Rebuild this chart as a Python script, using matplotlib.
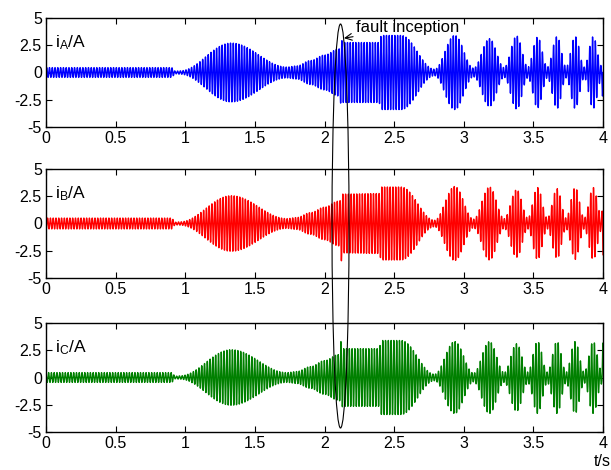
import numpy as np
import matplotlib.pyplot as plt
from matplotlib.patches import Ellipse

plt.rcParams['font.family'] = ['Liberation Sans', 'DejaVu Sans']
plt.rcParams['font.size'] = 11.5

# carrier and sampling
F_GRID = 50.0          # Hz
FS = 2000.0            # samples per second
T_END = 4.0

# envelope knots (time in s, amplitude in A)
KNOT_T = [0.00, 0.90, 0.93, 0.96, 1.33, 1.73, 1.80, 1.90, 2.00, 2.10, 2.112,
          2.118, 2.13, 2.39, 2.41, 2.55, 2.79, 2.935, 3.07, 3.185, 3.29,
          3.38, 3.46, 3.53, 3.60, 3.67, 3.735, 3.80, 3.865, 3.93, 3.99, 4.00]
ENV_A = [0.45, 0.45, 0.12, 0.15, 2.70, 0.50, 0.60, 1.10, 1.60, 2.15, 2.20,
         3.20, 2.75, 2.75, 3.40, 3.40, 0.30, 3.40, 0.40, 3.10, 0.45,
         3.35, 0.50, 3.25, 0.50, 3.30, 0.50, 3.30, 0.50, 3.30, 0.60, 3.10]
ENV_B = [0.50, 0.50, 0.12, 0.15, 2.55, 0.45, 0.55, 1.00, 1.50, 2.05, 2.10,
         3.60, 2.70, 2.75, 3.35, 3.35, 0.30, 3.40, 0.40, 3.35, 0.45,
         3.10, 0.50, 3.30, 0.50, 3.20, 0.50, 3.30, 0.50, 3.30, 0.60, 3.30]
ENV_C = [0.45, 0.45, 0.12, 0.15, 2.55, 0.45, 0.55, 1.00, 1.55, 2.10, 2.15,
         3.30, 2.65, 2.65, 3.40, 3.40, 0.30, 3.30, 0.40, 3.30, 0.45,
         3.10, 0.50, 3.30, 0.50, 3.30, 0.50, 3.30, 0.50, 3.30, 0.60, 3.30]

PHASE_DEG = [0, -120, 120]
LABELS = ['A', 'B', 'C']
COLORS = ['#0000ff', '#ff0000', '#008000']

X_TICKS = [0, 0.5, 1, 1.5, 2, 2.5, 3, 3.5, 4]
X_TICK_LABELS = ['0', '0.5', '1', '1.5', '2', '2.5', '3', '3.5', '4']
Y_TICKS = [-5, -2.5, 0, 2.5, 5]
Y_TICK_LABELS = ['-5', '-2.5', '0', '2.5', '5']

FAULT_T = 2.115


def smooth_envelope(t, kt, kv):
    """Half-cosine blend between knots so lobes come out rounded."""
    kt = np.asarray(kt)
    kv = np.asarray(kv)
    idx = np.clip(np.searchsorted(kt, t, side='right') - 1, 0, len(kt) - 2)
    t0, t1 = kt[idx], kt[idx + 1]
    v0, v1 = kv[idx], kv[idx + 1]
    u = np.clip((t - t0) / (t1 - t0), 0, 1)
    return v0 + (v1 - v0) * (1 - np.cos(np.pi * u)) / 2


t = np.arange(0, T_END + 1 / FS, 1 / FS)

fig = plt.figure(figsize=(6.11, 4.70), dpi=100)
left, width, height = 46 / 611, 557 / 611, 109 / 470
bottoms = [1 - 127 / 470, 1 - 278 / 470, 1 - 432 / 470]

axes = []
for k, env in enumerate([ENV_A, ENV_B, ENV_C]):
    ax = fig.add_axes([left, bottoms[k], width, height])
    amp = smooth_envelope(t, KNOT_T, env)
    sig = amp * np.sin(2 * np.pi * F_GRID * t + np.deg2rad(PHASE_DEG[k]))
    ax.plot(t, sig, color=COLORS[k], lw=1.0)
    ax.set_xlim(0, 4)
    ax.set_ylim(-5, 5)
    ax.set_xticks(X_TICKS)
    ax.set_xticklabels(X_TICK_LABELS)
    ax.set_yticks(Y_TICKS)
    ax.set_yticklabels(Y_TICK_LABELS)
    ax.tick_params(direction='in', top=True, right=True, length=4,
                   width=0.8, pad=3, labelsize=11.5)
    for s in ax.spines.values():
        s.set_linewidth(1.0)
    ax.text(0.016, 0.77, r'$\mathregular{i_%s}$/A' % LABELS[k],
            transform=ax.transAxes, fontsize=12.5, va='center')
    axes.append(ax)

# ellipse around the fault instant, spanning all three panels
cx = fig.transFigure.inverted().transform(
    axes[0].transData.transform((FAULT_T, 0)))[0]
ell = Ellipse((cx, 1 - 226 / 470), 17 / 611, 404 / 470,
              transform=fig.transFigure, fill=False, ec='black', lw=0.8,
              clip_on=False)
fig.add_artist(ell)

axes[0].annotate('fault inception', xy=(2.14, 3.15), xytext=(2.225, 4.1),
                 ha='left', va='center', fontsize=12,
                 arrowprops=dict(arrowstyle='->', color='black', lw=0.8,
                                 shrinkA=0, shrinkB=0),
                 annotation_clip=False)

fig.text(602 / 611, 1 - 461 / 470, 't/s', ha='center', va='center',
         fontsize=11.5)

fig.savefig('out.png', dpi=100)
